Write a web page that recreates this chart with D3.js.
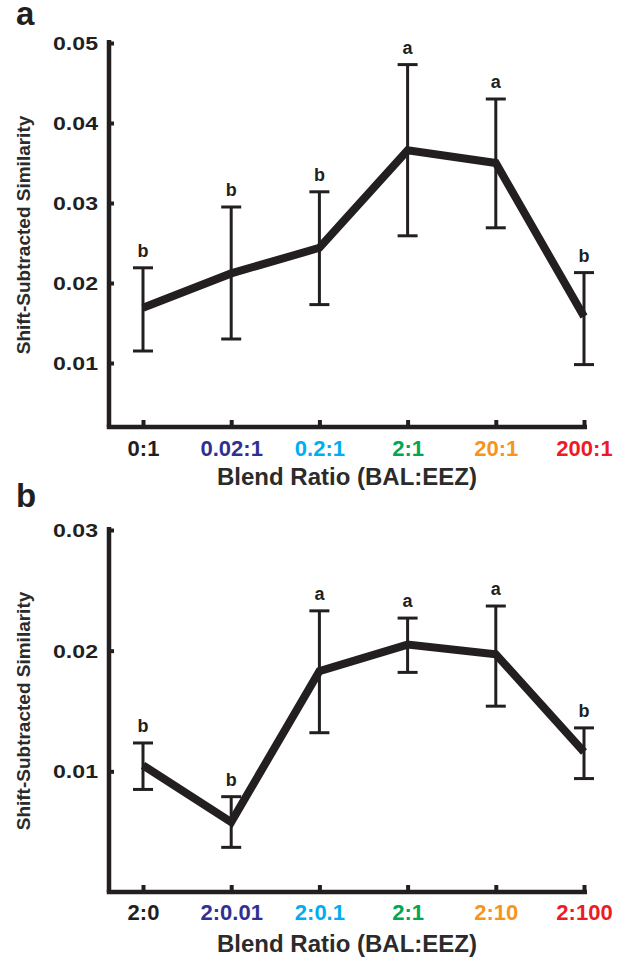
<!DOCTYPE html>
<html>
<head>
<meta charset="utf-8">
<script src="https://cdn.jsdelivr.net/npm/d3@7"></script>
<style>
  body { margin: 0; background: #fff; }
  text { font-family: "Liberation Sans", Arial, Helvetica, sans-serif; }
</style>
</head>
<body>
<div id="chart"></div>
<script>
// panel a : BAL held, EEZ varied
var catsA = ["0:1", "0.02:1", "0.2:1", "2:1", "20:1", "200:1"];
var meanA = [0.0169, 0.0212, 0.0244, 0.0366, 0.0350, 0.0158];
var upperA = [0.0219, 0.0295, 0.0314, 0.0473, 0.0430, 0.0213];
var lowerA = [0.0115, 0.0130, 0.0173, 0.0259, 0.0269, 0.0098];
var sigA = ["b", "b", "b", "a", "a", "b"];
var ticksA = [0.01, 0.02, 0.03, 0.04, 0.05];

// panel b
var catsB = ["2:0", "2:0.01", "2:0.1", "2:1", "2:10", "2:100"];
var meanB = [0.0105, 0.0058, 0.0183, 0.0205, 0.0197, 0.0116];
var upperB = [0.01235, 0.0079, 0.0233, 0.0227, 0.0237, 0.0136];
var lowerB = [0.0085, 0.0037, 0.0132, 0.0182, 0.0154, 0.0094];
var sigB = ["b", "b", "a", "a", "a", "b"];
var ticksB = [0.01, 0.02, 0.03];

var catColors = ["#231f20", "#2e3192", "#00aeef", "#00a651", "#f7941d", "#ed1c24"];
var ink = "#231f20";

var svg = d3.select("#chart")
  .append("svg")
  .attr("width", 621)
  .attr("height", 964);

// draws one panel; top/bottom are the pixel rows for the y domain ends
function drawPanel(opt) {
  var g = svg.append("g");
  var axisX = 109;

  var x = d3.scalePoint()
    .domain(opt.cats)
    .range([143, 584]);

  var y = d3.scaleLinear()
    .domain(opt.domain)
    .range([opt.bottom, opt.top]);

  // panel letter
  g.append("text")
    .attr("x", 16)
    .attr("y", opt.letterY)
    .attr("font-size", 33)
    .attr("font-weight", "bold")
    .attr("fill", ink)
    .text(opt.letter);

  // y axis, ticks point inward
  var yAxis = g.append("g")
    .attr("transform", `translate(${axisX},0)`)
    .call(d3.axisLeft(y)
      .tickValues(opt.ticks)
      .tickFormat(d3.format(".2f"))
      .tickSizeInner(-5)
      .tickSizeOuter(0)
      .tickPadding(11));
  yAxis.select(".domain")
    .attr("stroke", ink)
    .attr("stroke-width", 4.5)
    .attr("d", `M0,${opt.top - 3}V${opt.bottom}`);
  yAxis.selectAll(".tick line")
    .attr("stroke", ink)
    .attr("stroke-width", 4);
  yAxis.selectAll(".tick text")
    .attr("fill", ink)
    .attr("font-size", 18)
    .attr("font-weight", "bold")
    .attr("font-family", "Liberation Sans, Arial, sans-serif")
    .attr("dy", "0.36em")
    .attr("textLength", 45)
    .attr("lengthAdjust", "spacingAndGlyphs");

  // x axis
  var xAxis = g.append("g")
    .attr("transform", `translate(0,${opt.bottom})`)
    .call(d3.axisBottom(x)
      .tickSizeInner(-7)
      .tickSizeOuter(0)
      .tickPadding(0));
  xAxis.select(".domain").remove();
  xAxis.append("line")
    .attr("x1", axisX - 2.25)
    .attr("x2", x(opt.cats[opt.cats.length - 1]) + 3)
    .attr("stroke", ink)
    .attr("stroke-width", 4.5);
  xAxis.selectAll(".tick line")
    .attr("stroke", ink)
    .attr("stroke-width", 4);
  xAxis.selectAll(".tick text")
    .attr("y", opt.tickLabelDy)
    .attr("dy", 0)
    .attr("font-size", 22)
    .attr("font-weight", "bold")
    .attr("font-family", "Liberation Sans, Arial, sans-serif")
    .attr("fill", (d, i) => catColors[i]);

  // axis titles
  g.append("text")
    .attr("x", 347)
    .attr("y", opt.bottom + opt.titleDy)
    .attr("text-anchor", "middle")
    .attr("font-size", 24)
    .attr("font-weight", "bold")
    .attr("fill", "#2b2b2b")
    .text("Blend Ratio (BAL:EEZ)");

  g.append("text")
    .attr("transform", `translate(30,${(opt.top + opt.bottom) / 2}) rotate(-90)`)
    .attr("text-anchor", "middle")
    .attr("font-size", 19)
    .attr("font-weight", "bold")
    .attr("fill", "#2b2b2b")
    .text("Shift-Subtracted Similarity");

  var rows = opt.cats.map((c, i) => ({
    cat: c, mean: opt.mean[i], hi: opt.upper[i], lo: opt.lower[i], sig: opt.sig[i]
  }));

  // error bars
  var bars = g.append("g")
    .attr("stroke", ink)
    .attr("stroke-width", 3)
    .attr("fill", "none");
  bars.selectAll(".stem")
    .data(rows)
    .enter()
    .append("line")
    .attr("x1", d => x(d.cat))
    .attr("x2", d => x(d.cat))
    .attr("y1", d => y(d.hi))
    .attr("y2", d => y(d.lo));
  bars.selectAll(".capHi")
    .data(rows)
    .enter()
    .append("line")
    .attr("x1", d => x(d.cat) - 10)
    .attr("x2", d => x(d.cat) + 10)
    .attr("y1", d => y(d.hi))
    .attr("y2", d => y(d.hi));
  bars.selectAll(".capLo")
    .data(rows)
    .enter()
    .append("line")
    .attr("x1", d => x(d.cat) - 10)
    .attr("x2", d => x(d.cat) + 10)
    .attr("y1", d => y(d.lo))
    .attr("y2", d => y(d.lo));

  // mean line
  var line = d3.line()
    .x(d => x(d.cat))
    .y(d => y(d.mean));
  g.append("path")
    .datum(rows)
    .attr("d", line)
    .attr("fill", "none")
    .attr("stroke", ink)
    .attr("stroke-width", 8)
    .attr("stroke-linejoin", "miter");

  // significance letters
  g.selectAll(".sig")
    .data(rows)
    .enter()
    .append("text")
    .attr("x", d => x(d.cat))
    .attr("y", d => y(d.hi) - 11)
    .attr("text-anchor", "middle")
    .attr("font-size", 18)
    .attr("font-weight", "bold")
    .attr("fill", ink)
    .text(d => d.sig);
}

drawPanel({
  letter: "a", letterY: 25,
  cats: catsA, mean: meanA, upper: upperA, lower: lowerA, sig: sigA,
  ticks: ticksA, domain: [0.002, 0.05], top: 43, bottom: 427,
  tickLabelDy: 29, titleDy: 58
});

drawPanel({
  letter: "b", letterY: 507,
  cats: catsB, mean: meanB, upper: upperB, lower: lowerB, sig: sigB,
  ticks: ticksB, domain: [0, 0.03], top: 530, bottom: 892,
  tickLabelDy: 28, titleDy: 60
});
</script>
</body>
</html>
